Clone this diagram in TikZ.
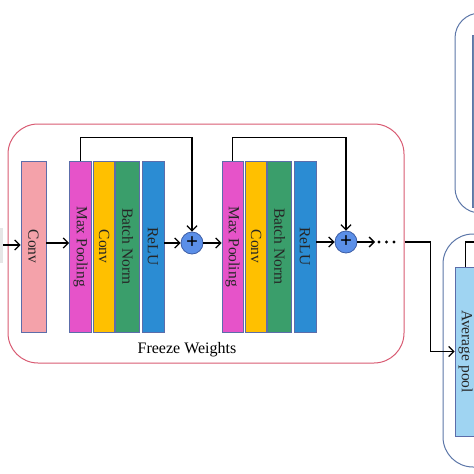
\documentclass[tikz,border=0pt]{standalone}
\usepackage{fontspec}
\setmainfont{Liberation Serif}
\usetikzlibrary{arrows.meta}
\usetikzlibrary{positioning}
\definecolor{convpink}{HTML}{F4A2AA}
\definecolor{poolmagenta}{HTML}{E653C9}
\definecolor{convyellow}{HTML}{FFC000}
\definecolor{bngreen}{HTML}{3A9E6B}
\definecolor{relublue}{HTML}{2B8CD3}
\definecolor{edgeblue}{HTML}{5C6DAA}
\definecolor{sumblue}{HTML}{5B8FE8}
\definecolor{sumedge}{HTML}{3D5EA6}
\definecolor{freezered}{HTML}{D85A72}
\definecolor{boxblue}{HTML}{5C76A8}
\definecolor{avgblue}{HTML}{9FD4F2}
\definecolor{slateblue}{HTML}{6A85AA}
\definecolor{inputgray}{HTML}{E6E6E6}

\begin{document}
\begin{tikzpicture}[x=1pt,y=-1pt,
        layer/.style={draw=edgeblue, line width=0.8pt, minimum height=171pt, inner sep=0pt,
            text=black!85, font=\fontsize{15.5}{18}\selectfont},
        arrow/.style={line width=1.3pt, -{Straight Barb[length=5pt,width=10pt]}},
        sumnode/.style={circle, draw=sumedge, fill=sumblue, line width=0.8pt,
            minimum size=22pt, inner sep=0pt, font=\fontsize{21}{21}\selectfont\bfseries}]
        \useasboundingbox (0,0) rectangle (474,474);

        % Frozen part (rounded frame)
        \node[draw=freezered, line width=1pt, rounded corners=30pt,
            minimum width=396pt, minimum height=239pt] (freeze) at (206,243.5) {};
        \node[font=\fontsize{16}{18}\selectfont] (freezelabel) at (187,350) {Freeze Weights};

        % Input (cut off at the left edge)
        \node[fill=inputgray, minimum width=20pt, minimum height=35pt, inner sep=0pt] (input) at (-7,245) {};

        % First convolution
        \node[layer, fill=convpink, minimum width=25pt] (conv1) at (33.5,246.5) {\rotatebox{-90}{Conv}};

        % Residual block 1
        \node[layer, fill=poolmagenta, minimum width=22pt] (pool1) at (80.5,246.5) {\rotatebox{-90}{Max Pooling}};
        \node[layer, fill=convyellow, minimum width=21pt, right=1.5pt of pool1] (convA) {\rotatebox{-90}{Conv}};
        \node[layer, fill=bngreen, minimum width=24pt, right=0pt of convA] (bnA) {\rotatebox{-90}{Batch Norm}};
        \node[layer, fill=relublue, minimum width=22pt, right=1.5pt of bnA] (reluA) {\rotatebox{-90}{ReLU}};
        \node[sumnode] (plus1) at (192,243) {+};

        % Residual block 2
        \node[layer, fill=poolmagenta, minimum width=21pt] (pool2) at (232.5,246.5) {\rotatebox{-90}{Max Pooling}};
        \node[layer, fill=convyellow, minimum width=21pt, right=2pt of pool2] (convB) {\rotatebox{-90}{Conv}};
        \node[layer, fill=bngreen, minimum width=24pt, right=0pt of convB] (bnB) {\rotatebox{-90}{Batch Norm}};
        \node[layer, fill=relublue, minimum width=22pt, right=1.5pt of bnB] (reluB) {\rotatebox{-90}{ReLU}};
        \node[sumnode] (plus2) at (346,242) {+};

        % More blocks
        \coordinate (dots) at (375,242);
        \foreach \x in {379,386.5,394}
            \fill (\x,242) circle (1.6pt);

        % Right-hand frames (cut off at the right edge)
        \draw[draw=boxblue, line width=1pt, rounded corners=25pt] (455,13) rectangle (540,213);
        \draw[draw=boxblue, line width=0.8pt, fill=slateblue] (472,35) rectangle (540,207);
        \draw[draw=boxblue, line width=1pt, rounded corners=30pt] (443,234) rectangle (540,467);
        \node[layer, fill=avgblue, minimum width=21pt, minimum height=169pt] (avgpool) at (465.5,351.5) {\rotatebox{-90}{Average pool}};
        \coordinate (outlink) at (500,242);

        % Connections
        \draw[arrow] (input.east) -- (input.east -| conv1.west);
        \draw[arrow] (conv1.east |- plus1) -- (pool1.west |- plus1);
        \draw[arrow] (reluA.east |- plus1) -- (plus1.west);
        \draw[arrow] (plus1.east) -- (pool2.west |- plus1);
        \draw[arrow] (pool1.north) -- ++(0,-23) -| (plus1.north); % skip 1
        \draw[arrow] (reluB.east |- plus2) -- (plus2.west);
        \draw[arrow] (pool2.north) -- ++(0,-23) -| (plus2.north); % skip 2
        \draw[arrow] (plus2.east) -- (dots);
        \draw[arrow] (plus2 -| freeze.east) -- ++(26,0) |- (avgpool.west);
        \draw[line width=1.3pt] (avgpool.north) |- (outlink);
\end{tikzpicture}
\end{document}
